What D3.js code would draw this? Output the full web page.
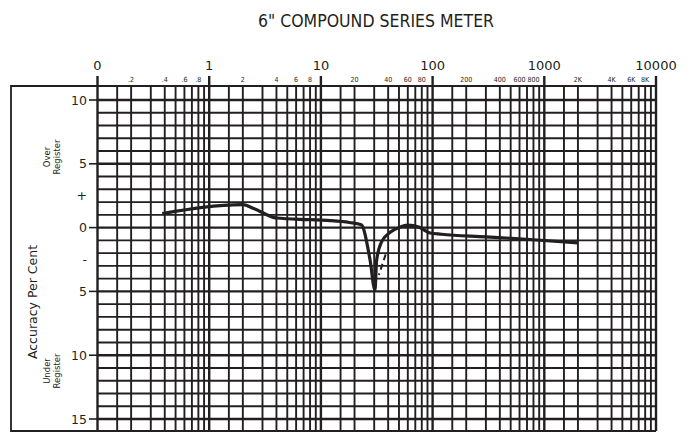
<!DOCTYPE html>
<html>
<head>
<meta charset="utf-8">
<script src="https://cdn.jsdelivr.net/npm/d3@7"></script>
<style>
  html, body { margin: 0; padding: 0; background: #fff; }
  svg { display: block; }
</style>
</head>
<body>
<svg id="chart" width="690" height="434"></svg>
<script>
// ---- data ----
const title = '6" COMPOUND SERIES METER';
const decadeValues = [0.1, 1, 10, 100, 1000, 10000];
const decadeLabels = ["0", "1", "10", "100", "1000", "10000"];
const minorLabelValues = [0.2, 0.4, 0.6, 0.8, 2, 4, 6, 8, 20, 40, 60, 80, 200, 400, 600, 800, 2000, 4000, 6000, 8000];
const minorLabelTexts = [".2", ".4", ".6", ".8", "2", "4", "6", "8", "20", "40", "60", "80", "200", "400", "600", "800", "2K", "4K", "6K", "8K"];
const gridMultipliers = [1, 1.5, 2, 3, 4, 5, 6, 7, 8, 9];
const yTickValues = [10, 5, 2.5, 0, -2.5, -5, -10, -15];
const yTickLabels = ["10", "5", "+", "0", "-", "5", "10", "15"];
const flow = [0.38, 2, 2.5, 4, 8, 12, 18, 23, 27.5, 30.5, 31.5, 35, 42, 50, 60, 75, 95, 120, 300, 800, 2000];
const accuracy = [1.1, 1.8, 1.5, 0.75, 0.62, 0.55, 0.4, 0.22, -2.5, -4.9, -2.6, -1.1, -0.35, 0.0, 0.2, 0.05, -0.42, -0.52, -0.72, -0.95, -1.2];
const dashFlow = [38, 33];
const dashAccuracy = [-2.1, -3.7];

// ---- layout ----
const svg = d3.select("#chart");
const ink = "#231f20";
const frame = { left: 11, top: 86, right: 656, bottom: 431 };
const x = d3.scaleLog().domain([0.1, 10000]).range([97.5, 656]);
const y = d3.scaleLinear().domain([10, -15]).range([100, 419]);

// title
svg.append("text")
  .attr("x", 376).attr("y", 27)
  .attr("text-anchor", "middle")
  .attr("font-family", "'Liberation Sans Narrow', 'DejaVu Sans Condensed', sans-serif")
  .attr("font-stretch", "condensed")
  .attr("font-size", 17.5)
  .attr("fill", ink)
  .text(title);

// vertical grid lines
const gridVals = [];
for (let d = 0.1; d < 10000; d *= 10) {
  gridMultipliers.forEach(m => gridVals.push(+(d * m).toPrecision(3)));
}
gridVals.push(10000);
const isDecade = v => decadeValues.some(d => Math.abs(d - v) < 1e-9);

const g = svg.append("g");
// horizontal grid lines (every 1%)
const hVals = d3.range(10, -16, -1);
g.selectAll("line.h").data(hVals).join("line")
  .attr("x1", x(0.1)).attr("x2", frame.right)
  .attr("y1", d => y(d)).attr("y2", d => y(d))
  .attr("stroke", ink)
  .attr("stroke-width", d => d % 5 === 0 ? 2.4 : 1.9);

g.selectAll("line.v").data(gridVals).join("line")
  .attr("x1", d => x(d)).attr("x2", d => x(d))
  .attr("y1", d => isDecade(d) ? 76 : frame.top).attr("y2", frame.bottom)
  .attr("stroke", ink)
  .attr("stroke-width", d => isDecade(d) ? 2.4 : 1.9);

// frame
g.append("path")
  .attr("d", `M${frame.right},${frame.top}H${frame.left}V${frame.bottom}H${frame.right}`)
  .attr("fill", "none").attr("stroke", ink).attr("stroke-width", 1.8);

// y ticks
const yMajor = [10, 5, 0, -5, -10, -15];
g.selectAll("line.yt").data(yMajor).join("line")
  .attr("x1", 89).attr("x2", x(0.1))
  .attr("y1", d => y(d)).attr("y2", d => y(d))
  .attr("stroke", ink).attr("stroke-width", 1.6);

svg.selectAll("text.yl").data(yTickValues).join("text")
  .attr("x", 87)
  .attr("y", d => y(d) + 4.5)
  .attr("text-anchor", "end")
  .attr("font-family", "'DejaVu Sans', sans-serif")
  .attr("font-size", 12.5)
  .attr("fill", ink)
  .text((d, i) => yTickLabels[i]);

// top decade labels
svg.selectAll("text.dl").data(decadeValues).join("text")
  .attr("x", d => x(d))
  .attr("y", 70)
  .attr("text-anchor", "middle")
  .attr("font-family", "'DejaVu Sans', sans-serif")
  .attr("font-size", 13)
  .attr("fill", ink)
  .text((d, i) => decadeLabels[i]);

// minor labels
svg.selectAll("text.ml").data(minorLabelValues).join("text")
  .attr("x", d => x(d))
  .attr("y", 82)
  .attr("text-anchor", "middle")
  .attr("font-family", "'Liberation Sans Narrow', 'DejaVu Sans Condensed', sans-serif")
  .attr("font-size", 7)
  .attr("fill", ink)
  .text((d, i) => minorLabelTexts[i]);

// axis titles
function rotText(tx, ty, txt, size) {
  svg.append("text")
    .attr("transform", `translate(${tx},${ty}) rotate(-90)`)
    .attr("text-anchor", "middle")
    .attr("font-family", "'DejaVu Sans', sans-serif")
    .attr("font-size", size)
    .attr("fill", ink)
    .text(txt);
}
rotText(37, 302, "Accuracy Per Cent", 12.5);
rotText(50, 157, "Over", 8.5);
rotText(60, 157, "Register", 8.5);
rotText(50, 371, "Under", 8.5);
rotText(60, 371, "Register", 8.5);

// curve
const pts = flow.map((f, i) => [x(f), y(accuracy[i])]);
svg.append("path")
  .attr("d", d3.line().curve(d3.curveMonotoneX)(pts))
  .attr("fill", "none").attr("stroke", ink)
  .attr("stroke-width", 3.2).attr("stroke-linejoin", "round");

const dpts = dashFlow.map((f, i) => [x(f), y(dashAccuracy[i])]);
svg.append("path")
  .attr("d", d3.line()(dpts))
  .attr("fill", "none").attr("stroke", ink)
  .attr("stroke-width", 2).attr("stroke-dasharray", "6,4");
</script>
</body>
</html>
